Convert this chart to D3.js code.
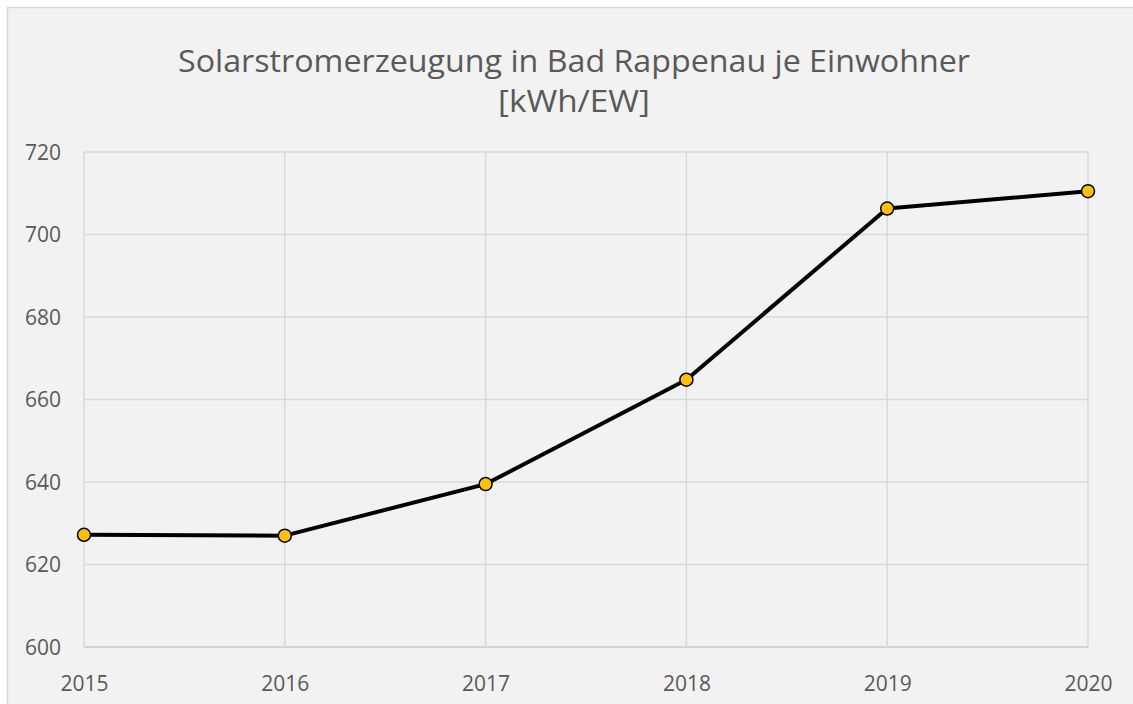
<!DOCTYPE html>
<html lang="de">
  <head>
    <meta charset="utf-8">
    <title>Solarstromerzeugung</title>
    <script src="https://cdn.jsdelivr.net/npm/d3@7"></script>
  </head>
  <style>
    body, html {
      margin: 0;
      padding: 0;
      background: #ffffff;
    }
    svg {
      display: block;
      font-family: "Open Sans", "Liberation Sans", sans-serif;
    }
  </style>
  <body>
    <svg></svg>
  </body>
  <script>
    const years = [2015, 2016, 2017, 2018, 2019, 2020]
    const kwhPerResident = [627.2, 627.0, 639.5, 664.8, 706.3, 710.5]
    const yTicks = [600, 620, 640, 660, 680, 700, 720]
    const titleLines = ['Solarstromerzeugung in Bad Rappenau je Einwohner', '[kWh/EW]']
    const titleWidths = [792, 152]

    const width = 1133
    const height = 704
    const margin = { top: 152, right: 45, bottom: 57, left: 84 }

    const svg = d3.select('svg')
      .attr('width', width)
      .attr('height', height)

    // chart area
    svg.append('rect')
      .attr('x', 7.5)
      .attr('y', 7.5)
      .attr('width', width)
      .attr('height', height)
      .attr('fill', '#f2f2f2')
      .attr('stroke', '#d9d9d9')
      .attr('stroke-width', 1.5)

    // title, squeezed a bit to get the narrow look of the original font
    svg.selectAll('text.title')
      .data(titleLines)
      .join('text')
      .attr('class', 'title')
      .attr('text-anchor', 'middle')
      .attr('fill', '#595959')
      .style('font-size', '31px')
      .attr('x', 574)
      .attr('y', (d, i) => 72 + i * 40)
      .attr('textLength', (d, i) => titleWidths[i])
      .attr('lengthAdjust', 'spacingAndGlyphs')
      .text(d => d)

    const x = d3.scalePoint()
      .domain(years)
      .range([margin.left, width - margin.right])

    const y = d3.scaleLinear()
      .domain([600, 720])
      .range([height - margin.bottom, margin.top])

    const grid = svg.append('g')

    grid.selectAll('line.h')
      .data(yTicks)
      .join('line')
      .attr('class', 'h')
      .attr('x1', margin.left)
      .attr('x2', width - margin.right)
      .attr('y1', d => y(d))
      .attr('y2', d => y(d))
      .attr('stroke', d => d === 600 ? '#c8c8c8' : '#d9d9d9')
      .attr('stroke-width', 1.5)

    grid.selectAll('line.v')
      .data(years)
      .join('line')
      .attr('class', 'v')
      .attr('x1', d => x(d))
      .attr('x2', d => x(d))
      .attr('y1', y(720))
      .attr('y2', y(600))
      .attr('stroke', '#d9d9d9')
      .attr('stroke-width', 1.5)

    const yAxis = svg.append('g')
      .attr('transform', 'translate(' + (margin.left - 23) + ',0)')
      .call(d3.axisLeft(y).tickValues(yTicks).tickSize(0).tickPadding(0))

    const xAxis = svg.append('g')
      .attr('transform', 'translate(0,' + (height - margin.bottom + 28) + ')')
      .call(d3.axisBottom(x).tickSize(0).tickPadding(0).tickFormat(d3.format('d')))

    for (const axis of [yAxis, xAxis]) {
      axis.select('.domain').remove()
      axis.selectAll('text')
        .attr('fill', '#595959')
        .style('font-size', '21px')
        .style('font-family', '"Open Sans", "Liberation Sans", sans-serif')
    }
    yAxis.selectAll('text').attr('dy', '0.35em')
    xAxis.selectAll('text').attr('dy', '0.75em')

    const points = years.map((yr, i) => ({ year: yr, value: kwhPerResident[i] }))

    svg.append('path')
      .datum(points)
      .attr('fill', 'none')
      .attr('stroke', '#000000')
      .attr('stroke-width', 4)
      .attr('stroke-linejoin', 'round')
      .attr('d', d3.line().x(d => x(d.year)).y(d => y(d.value)))

    svg.selectAll('circle.pt')
      .data(points)
      .join('circle')
      .attr('class', 'pt')
      .attr('cx', d => x(d.year))
      .attr('cy', d => y(d.value))
      .attr('r', 6.5)
      .attr('fill', '#ffc000')
      .attr('stroke', '#000000')
      .attr('stroke-width', 1.5)
  </script>
</html>
